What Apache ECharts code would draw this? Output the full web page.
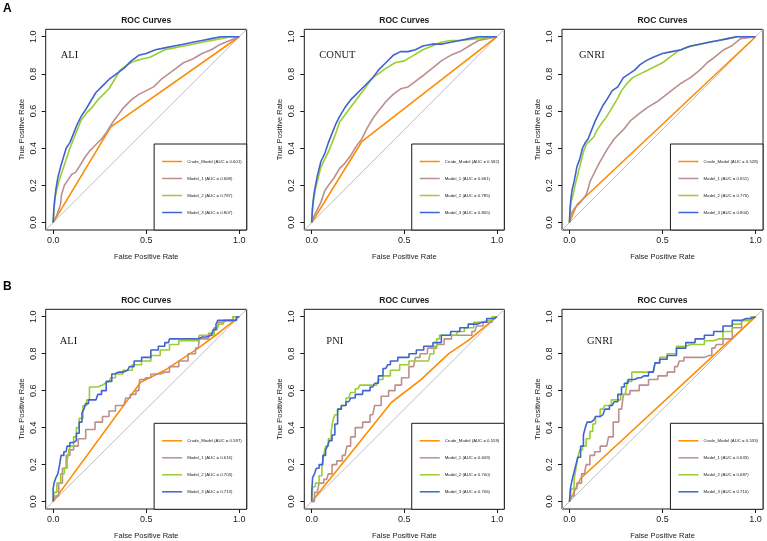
<!DOCTYPE html>
<html>
<head>
<meta charset="utf-8">
<title>ROC Curves</title>
<script src="https://cdn.jsdelivr.net/npm/echarts@6/dist/echarts.min.js"></script>
</head>
<body style="margin:0">
<div id="main" style="width:767px;height:541px;"></div>
<script type="text/javascript">
// names
var panelNames = ['ALI', 'CONUT', 'GNRI', 'ALI', 'PNI', 'GNRI'];
var modelNames = ['Crude_Model', 'Model_1', 'Model_2', 'Model_3'];
var modelColors = ['#FF8C00', '#BC8F8F', '#9ACD32', '#3F63D0'];

// AUC values per panel (Crude, M1, M2, M3)
var aucAAli = [0.601, 0.668, 0.787, 0.807];
var aucAConut = [0.582, 0.661, 0.785, 0.805];
var aucAGnri = [0.528, 0.651, 0.776, 0.804];
var aucBAli = [0.587, 0.616, 0.703, 0.713];
var aucBPni = [0.559, 0.609, 0.700, 0.706];
var aucBGnri = [0.533, 0.633, 0.687, 0.710];

var xTicks = [0, 0.5, 1];
var yTicks = [0, 0.2, 0.4, 0.6, 0.8, 1];
var diagonal = [[-0.04, -0.04], [1.04, 1.04]];

// A - ALI
var aAliCrude = [[0,0],[0.31,0.515],[1,1]];
var aAliM1 = [[0,0],[0.02,0.04],[0.04,0.1],[0.045,0.15],[0.06,0.2],[0.08,0.23],[0.1,0.26],[0.12,0.27],[0.14,0.3],[0.17,0.35],[0.2,0.39],[0.23,0.42],[0.26,0.45],[0.29,0.49],[0.32,0.54],[0.35,0.58],[0.38,0.62],[0.42,0.66],[0.46,0.69],[0.5,0.71],[0.54,0.73],[0.58,0.77],[0.62,0.8],[0.66,0.83],[0.7,0.86],[0.75,0.88],[0.8,0.91],[0.85,0.93],[0.9,0.96],[0.95,0.98],[1,1]];
var aAliM2 = [[0,0],[0.005,0.08],[0.01,0.13],[0.02,0.18],[0.03,0.22],[0.05,0.28],[0.07,0.34],[0.09,0.4],[0.11,0.45],[0.13,0.5],[0.15,0.55],[0.18,0.59],[0.21,0.62],[0.24,0.66],[0.27,0.69],[0.3,0.72],[0.33,0.77],[0.36,0.82],[0.4,0.85],[0.44,0.87],[0.48,0.88],[0.52,0.89],[0.56,0.91],[0.6,0.93],[0.65,0.94],[0.7,0.95],[0.75,0.96],[0.8,0.97],[0.85,0.98],[0.9,0.99],[0.95,1],[1,1]];
var aAliM3 = [[0,0],[0.003,0.06],[0.008,0.12],[0.015,0.18],[0.025,0.24],[0.04,0.3],[0.055,0.35],[0.07,0.4],[0.09,0.43],[0.11,0.48],[0.13,0.53],[0.15,0.57],[0.17,0.6],[0.2,0.65],[0.23,0.7],[0.26,0.73],[0.3,0.77],[0.34,0.8],[0.38,0.83],[0.42,0.87],[0.46,0.9],[0.5,0.91],[0.55,0.93],[0.6,0.94],[0.65,0.95],[0.7,0.96],[0.75,0.97],[0.8,0.98],[0.85,0.99],[0.9,1],[1,1]];

// A - CONUT
var aConutCrude = [[0,0],[0.27,0.435],[1,1]];
var aConutM1 = [[0,0],[0.01,0.03],[0.03,0.07],[0.05,0.11],[0.07,0.17],[0.09,0.2],[0.12,0.24],[0.15,0.29],[0.18,0.32],[0.21,0.36],[0.24,0.41],[0.27,0.45],[0.3,0.51],[0.33,0.56],[0.36,0.6],[0.4,0.65],[0.44,0.69],[0.48,0.72],[0.52,0.73],[0.56,0.76],[0.6,0.79],[0.65,0.83],[0.7,0.87],[0.75,0.9],[0.8,0.92],[0.85,0.95],[0.9,0.98],[0.95,0.99],[1,1]];
var aConutM2 = [[0,0],[0.005,0.08],[0.01,0.12],[0.02,0.18],[0.035,0.24],[0.05,0.3],[0.07,0.34],[0.09,0.38],[0.11,0.43],[0.13,0.48],[0.15,0.54],[0.18,0.58],[0.21,0.62],[0.24,0.66],[0.27,0.7],[0.3,0.74],[0.33,0.78],[0.36,0.8],[0.4,0.83],[0.45,0.86],[0.5,0.87],[0.55,0.9],[0.6,0.93],[0.65,0.95],[0.7,0.97],[0.75,0.98],[0.8,0.98],[0.9,0.99],[1,1]];
var aConutM3 = [[0,0],[0.003,0.06],[0.008,0.12],[0.015,0.17],[0.03,0.25],[0.05,0.33],[0.07,0.37],[0.09,0.43],[0.11,0.48],[0.13,0.53],[0.15,0.57],[0.18,0.62],[0.21,0.66],[0.24,0.69],[0.27,0.72],[0.3,0.75],[0.33,0.78],[0.36,0.82],[0.4,0.86],[0.44,0.9],[0.48,0.92],[0.52,0.92],[0.56,0.93],[0.6,0.95],[0.65,0.96],[0.7,0.96],[0.75,0.97],[0.8,0.98],[0.85,0.99],[0.9,1],[1,1]];

// A - GNRI
var aGnriCrude = [[0,0],[0.04,0.096],[1,1]];
var aGnriM1 = [[0,0],[0.01,0.05],[0.03,0.08],[0.06,0.11],[0.09,0.15],[0.1,0.18],[0.11,0.22],[0.13,0.26],[0.16,0.32],[0.2,0.39],[0.24,0.45],[0.29,0.5],[0.33,0.55],[0.38,0.59],[0.42,0.62],[0.47,0.65],[0.51,0.68],[0.56,0.72],[0.6,0.75],[0.65,0.78],[0.7,0.82],[0.74,0.86],[0.78,0.89],[0.83,0.93],[0.87,0.95],[0.92,0.99],[1,1]];
var aGnriM2 = [[0,0],[0.003,0.06],[0.008,0.11],[0.02,0.15],[0.03,0.2],[0.045,0.26],[0.06,0.32],[0.075,0.38],[0.09,0.42],[0.11,0.44],[0.13,0.46],[0.15,0.5],[0.17,0.53],[0.2,0.57],[0.23,0.62],[0.26,0.67],[0.28,0.71],[0.31,0.75],[0.34,0.78],[0.38,0.8],[0.42,0.82],[0.46,0.84],[0.5,0.86],[0.54,0.89],[0.58,0.92],[0.62,0.94],[0.66,0.95],[0.7,0.96],[0.75,0.97],[0.8,0.98],[0.85,0.99],[0.9,1],[1,1]];
var aGnriM3 = [[0,0],[0.003,0.07],[0.008,0.13],[0.015,0.18],[0.025,0.22],[0.04,0.3],[0.055,0.34],[0.07,0.4],[0.085,0.43],[0.1,0.45],[0.12,0.5],[0.14,0.55],[0.16,0.59],[0.18,0.63],[0.2,0.66],[0.23,0.71],[0.26,0.73],[0.29,0.78],[0.32,0.8],[0.35,0.82],[0.38,0.85],[0.41,0.87],[0.45,0.89],[0.5,0.91],[0.55,0.92],[0.6,0.93],[0.65,0.95],[0.7,0.96],[0.75,0.97],[0.8,0.98],[0.85,0.99],[0.9,1],[1,1]];

// B - ALI
var bAliCrude = [[0,0],[0.47,0.645],[0.6,0.71],[0.78,0.83],[0.9,0.92],[1,1]];
var bAliM1 = [[0,0],[0.02,0.03],[0.04,0.1],[0.06,0.18],[0.08,0.25],[0.1,0.28],[0.12,0.3],[0.15,0.34],[0.2,0.39],[0.25,0.43],[0.28,0.46],[0.32,0.49],[0.35,0.52],[0.38,0.52],[0.4,0.56],[0.43,0.58],[0.46,0.6],[0.47,0.66],[0.5,0.67],[0.55,0.69],[0.6,0.7],[0.65,0.73],[0.7,0.76],[0.75,0.8],[0.78,0.83],[0.79,0.88],[0.82,0.88],[0.85,0.91],[0.88,0.94],[0.9,0.97],[0.93,0.98],[1,1]];
var bAliM2 = [[0,0],[0.01,0.05],[0.03,0.1],[0.05,0.15],[0.07,0.18],[0.08,0.22],[0.09,0.28],[0.1,0.3],[0.12,0.35],[0.13,0.4],[0.15,0.45],[0.17,0.52],[0.19,0.55],[0.2,0.62],[0.24,0.62],[0.25,0.63],[0.28,0.64],[0.3,0.65],[0.32,0.67],[0.35,0.69],[0.4,0.71],[0.45,0.74],[0.5,0.76],[0.55,0.79],[0.6,0.82],[0.65,0.85],[0.7,0.87],[0.78,0.87],[0.79,0.9],[0.85,0.9],[0.88,0.93],[0.9,0.96],[0.93,0.98],[1,1]];
var bAliM3 = [[0,0],[0,0.07],[0.01,0.1],[0.02,0.13],[0.03,0.15],[0.04,0.2],[0.045,0.25],[0.07,0.27],[0.08,0.3],[0.1,0.32],[0.12,0.33],[0.13,0.37],[0.15,0.43],[0.16,0.48],[0.17,0.5],[0.18,0.53],[0.2,0.55],[0.23,0.55],[0.25,0.58],[0.27,0.6],[0.3,0.65],[0.33,0.69],[0.35,0.7],[0.4,0.71],[0.42,0.73],[0.45,0.76],[0.5,0.78],[0.55,0.82],[0.58,0.84],[0.62,0.86],[0.63,0.88],[0.7,0.88],[0.78,0.88],[0.8,0.89],[0.85,0.9],[0.87,0.93],[0.88,0.96],[0.89,0.98],[0.93,0.98],[0.97,0.98],[1,1]];

// B - PNI
var bPniCrude = [[0,0],[0.23,0.286],[0.43,0.536],[0.59,0.66],[0.74,0.8],[0.85,0.875],[1,1]];
var bPniM1 = [[0,0],[0.03,0.05],[0.05,0.1],[0.08,0.12],[0.1,0.15],[0.12,0.2],[0.15,0.22],[0.18,0.25],[0.2,0.3],[0.22,0.35],[0.25,0.4],[0.3,0.43],[0.33,0.47],[0.35,0.52],[0.4,0.57],[0.43,0.6],[0.47,0.63],[0.5,0.67],[0.55,0.73],[0.57,0.78],[0.6,0.8],[0.65,0.83],[0.7,0.85],[0.73,0.88],[0.78,0.9],[0.85,0.9],[0.88,0.92],[0.9,0.95],[0.95,0.97],[1,1]];
var bPniM2 = [[0,0],[0.01,0.08],[0.03,0.1],[0.05,0.14],[0.06,0.2],[0.07,0.25],[0.08,0.3],[0.1,0.34],[0.11,0.38],[0.12,0.44],[0.13,0.47],[0.15,0.5],[0.17,0.52],[0.2,0.56],[0.22,0.59],[0.25,0.61],[0.27,0.63],[0.35,0.63],[0.37,0.66],[0.4,0.68],[0.45,0.71],[0.5,0.74],[0.55,0.76],[0.63,0.76],[0.65,0.8],[0.67,0.84],[0.68,0.88],[0.7,0.9],[0.78,0.9],[0.8,0.92],[0.85,0.94],[0.9,0.97],[0.95,0.98],[1,1]];
var bPniM3 = [[0,0],[0,0.05],[0.01,0.13],[0.02,0.15],[0.03,0.18],[0.05,0.2],[0.07,0.25],[0.08,0.28],[0.09,0.3],[0.1,0.33],[0.12,0.36],[0.13,0.42],[0.15,0.5],[0.17,0.52],[0.2,0.54],[0.22,0.56],[0.25,0.58],[0.3,0.6],[0.33,0.62],[0.35,0.64],[0.37,0.68],[0.4,0.72],[0.42,0.74],[0.43,0.76],[0.5,0.78],[0.55,0.8],[0.58,0.82],[0.63,0.84],[0.68,0.86],[0.72,0.9],[0.78,0.92],[0.82,0.94],[0.87,0.96],[0.92,0.97],[0.97,0.99],[1,1]];

// B - GNRI
var bGnriCrude = [[0,0],[0.06,0.125],[1,1]];
var bGnriM1 = [[0,0],[0.02,0.03],[0.03,0.07],[0.05,0.1],[0.08,0.15],[0.1,0.2],[0.12,0.25],[0.15,0.27],[0.18,0.3],[0.2,0.3],[0.22,0.35],[0.25,0.43],[0.28,0.5],[0.3,0.58],[0.35,0.6],[0.4,0.63],[0.45,0.66],[0.5,0.68],[0.55,0.7],[0.58,0.73],[0.6,0.76],[0.63,0.78],[0.7,0.78],[0.75,0.79],[0.78,0.83],[0.8,0.85],[0.85,0.88],[0.9,0.94],[0.95,0.98],[1,1]];
var bGnriM2 = [[0,0],[0.02,0.07],[0.03,0.12],[0.04,0.18],[0.05,0.24],[0.06,0.28],[0.08,0.3],[0.1,0.34],[0.12,0.38],[0.13,0.42],[0.15,0.46],[0.18,0.5],[0.2,0.52],[0.25,0.55],[0.3,0.58],[0.32,0.65],[0.35,0.7],[0.45,0.7],[0.47,0.75],[0.5,0.78],[0.55,0.8],[0.6,0.84],[0.65,0.85],[0.7,0.85],[0.75,0.87],[0.8,0.88],[0.85,0.92],[0.9,0.96],[0.95,0.98],[1,1]];
var bGnriM3 = [[0,0],[0.01,0.07],[0.02,0.12],[0.03,0.16],[0.04,0.2],[0.05,0.24],[0.07,0.3],[0.08,0.36],[0.09,0.4],[0.1,0.43],[0.13,0.44],[0.15,0.46],[0.18,0.47],[0.2,0.5],[0.23,0.52],[0.25,0.54],[0.27,0.58],[0.29,0.62],[0.3,0.64],[0.33,0.66],[0.37,0.67],[0.4,0.68],[0.45,0.7],[0.47,0.75],[0.5,0.77],[0.55,0.79],[0.6,0.83],[0.65,0.86],[0.7,0.88],[0.75,0.9],[0.8,0.92],[0.85,0.95],[0.9,0.98],[0.95,0.99],[1,1]];

var panelCurves = [
    [aAliCrude, aAliM1, aAliM2, aAliM3],
    [aConutCrude, aConutM1, aConutM2, aConutM3],
    [aGnriCrude, aGnriM1, aGnriM2, aGnriM3],
    [bAliCrude, bAliM1, bAliM2, bAliM3],
    [bPniCrude, bPniM1, bPniM2, bPniM3],
    [bGnriCrude, bGnriM1, bGnriM2, bGnriM3]
];
var panelAuc = [aucAAli, aucAConut, aucAGnri, aucBAli, aucBPni, aucBGnri];

// layout (pixels)
var W = 767, H = 541;
var cols = [{left: 45.7, width: 201}, {left: 304.3, width: 200}, {left: 562, width: 201}];
var rows = [{top: 29.3, height: 200.7}, {top: 309.3, height: 200}];
var labelOffset = [[15, 25.7], [15, 25.7], [17, 25.7], [14, 32.4], [22, 32.4], [25, 32.4]];
var sans = 'Liberation Sans, Arial, sans-serif';
var ink = '#1a1a1a';

var grids = [], xAxes = [], yAxes = [], series = [], legends = [], graphics = [];

for (var i = 0; i < 6; i++) {
    var c = cols[i % 3], r = rows[Math.floor(i / 3)];
    grids.push({left: c.left, top: r.top, width: c.width, height: r.height, show: true,
        borderColor: ink, borderWidth: 1, backgroundColor: 'transparent'});
    xAxes.push({
        gridIndex: i, type: 'value', min: -0.04, max: 1.04,
        name: 'False Positive Rate', nameLocation: 'middle', nameGap: 23,
        nameTextStyle: {fontSize: 7.5, color: ink, fontFamily: sans},
        axisLine: {show: false, onZero: false},
        axisTick: {show: true, length: 4, customValues: xTicks, lineStyle: {color: ink}},
        axisLabel: {customValues: xTicks, margin: 6, fontSize: 9, color: ink, fontFamily: sans,
            formatter: function (v) { return v.toFixed(1); }},
        splitLine: {show: false}
    });
    yAxes.push({
        gridIndex: i, type: 'value', min: -0.04, max: 1.04,
        name: 'True Positive Rate', nameLocation: 'middle', nameGap: 20,
        nameTextStyle: {fontSize: 7.5, color: ink, fontFamily: sans},
        axisLine: {show: false, onZero: false},
        axisTick: {show: true, length: 4, customValues: yTicks, lineStyle: {color: ink}},
        axisLabel: {customValues: yTicks, rotate: 90, margin: 8, fontSize: 9, color: ink, fontFamily: sans,
            formatter: function (v) { return v.toFixed(1); }},
        splitLine: {show: false}
    });
    series.push({
        type: 'line', xAxisIndex: i, yAxisIndex: i, data: diagonal, symbol: 'none',
        lineStyle: {color: '#BEBEBE', width: 1}, silent: true, z: 1
    });
    var names = [];
    for (var m = 0; m < 4; m++) {
        var nm = modelNames[m] + ' (AUC = ' + panelAuc[i][m].toFixed(3) + ')';
        names.push(nm);
        var stepped = i >= 3 && m > 0;
        series.push({
            type: 'line', name: nm, xAxisIndex: i, yAxisIndex: i, data: panelCurves[i][m],
            symbol: 'none', step: stepped ? 'middle' : false, color: modelColors[m],
            lineStyle: {color: modelColors[m], width: 1.6}, z: 2 + m
        });
    }
    legends.push({
        orient: 'vertical', right: W - (c.left + c.width), bottom: H - (r.top + r.height),
        data: names, selectedMode: false, borderColor: ink, borderWidth: 1, borderRadius: 0,
        padding: [15.5, 5, 15.5, 8], itemGap: 13, itemWidth: 20, itemHeight: 4,
        icon: 'path://M0,0L40,0L40,3L0,3Z', backgroundColor: '#fff',
        textStyle: {fontSize: 4.3, color: ink, fontFamily: sans}
    });
    graphics.push({
        type: 'text', x: c.left + c.width / 2, y: r.top - 8.5,
        style: {text: 'ROC Curves', fontSize: 8.5, fontWeight: 'bold', fontFamily: sans,
            fill: ink, align: 'center', verticalAlign: 'middle'}
    });
    graphics.push({
        type: 'text', x: c.left + labelOffset[i][0], y: r.top + labelOffset[i][1],
        style: {text: panelNames[i], fontSize: 10.5, fontFamily: 'Liberation Serif, Times New Roman, serif',
            fill: ink, align: 'left', verticalAlign: 'middle'}
    });
}
graphics.push({type: 'text', x: 3, y: 9, style: {text: 'A', fontSize: 12, fontWeight: 'bold',
    fontFamily: sans, fill: '#000', verticalAlign: 'middle'}});
graphics.push({type: 'text', x: 3, y: 287, style: {text: 'B', fontSize: 12, fontWeight: 'bold',
    fontFamily: sans, fill: '#000', verticalAlign: 'middle'}});

var myChart = echarts.init(document.getElementById('main'));
myChart.setOption({
    backgroundColor: '#fff',
    animation: false,
    grid: grids,
    xAxis: xAxes,
    yAxis: yAxes,
    legend: legends,
    graphic: graphics,
    series: series
});
</script>
</body>
</html>
